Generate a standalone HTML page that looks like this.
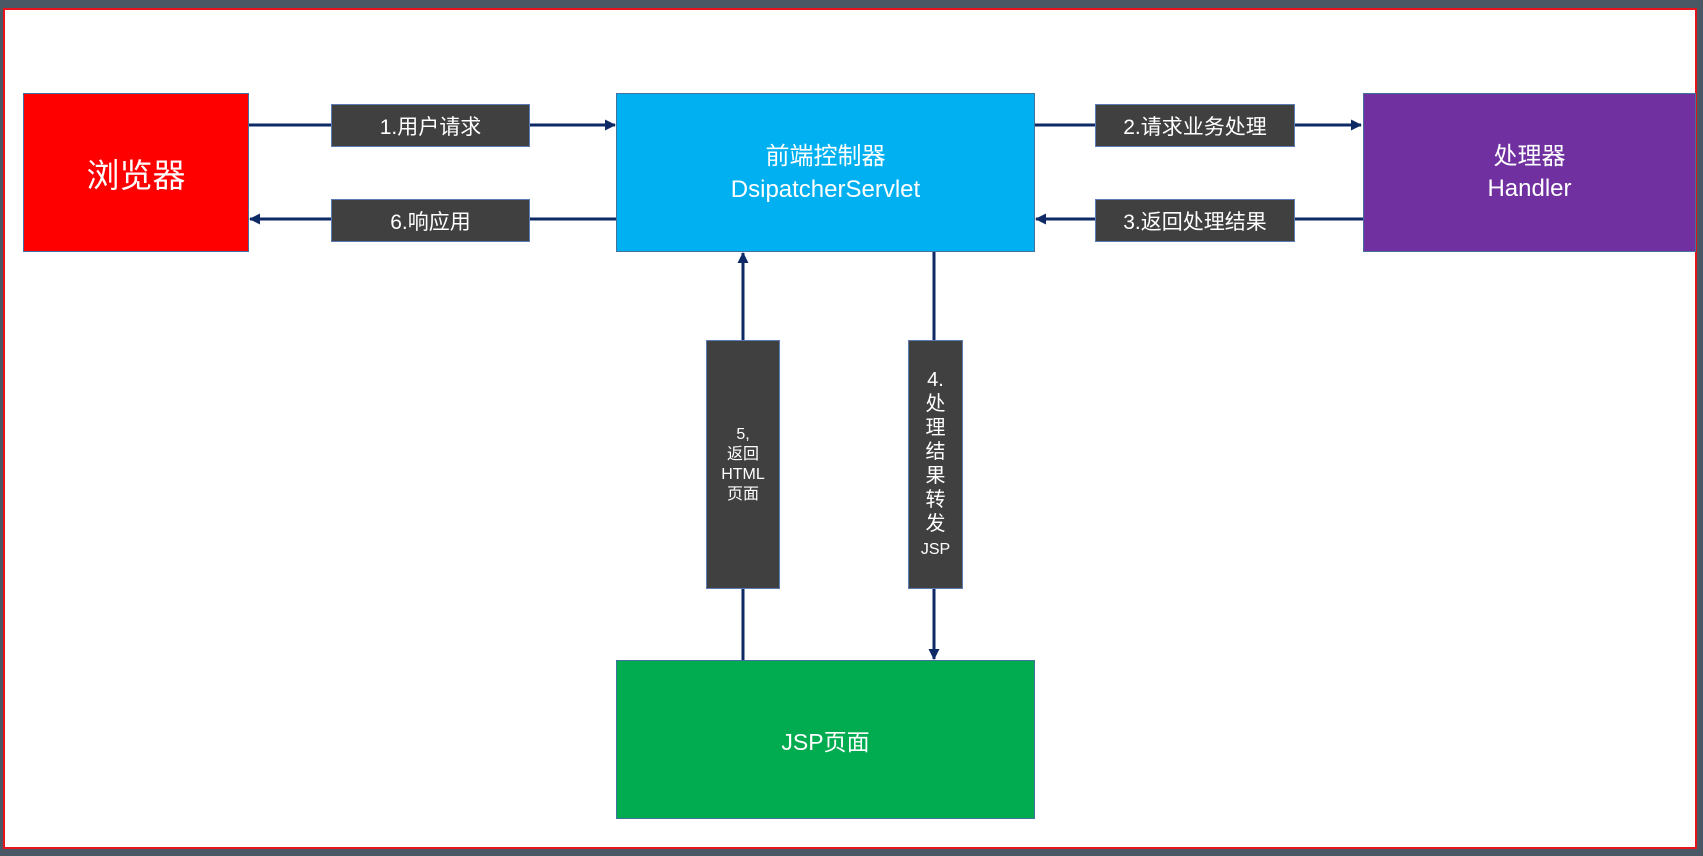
<!DOCTYPE html>
<html><head><meta charset="utf-8"><style>
body{margin:0;width:1703px;height:856px;background:#4a5865;position:relative;overflow:hidden;font-family:"Liberation Sans","Noto Sans CJK SC",sans-serif;}
.frame{position:absolute;left:3px;top:8px;width:1690px;height:837px;background:#fff;border:2px solid #e8141c;}
.b{position:absolute;box-sizing:border-box;border:1px solid #41719c;color:#fff;display:flex;align-items:center;justify-content:center;text-align:center;}
.l{position:absolute;box-sizing:border-box;background:#404040;border:1px solid #5b7bb5;color:#fff;display:flex;align-items:center;justify-content:center;text-align:center;font-size:21px;}
svg{position:absolute;left:0;top:0;}
</style></head><body>
<div class="frame"></div>
<svg width="1703" height="856">
<defs><marker id="a" markerWidth="11" markerHeight="11" refX="10" refY="5.5" orient="auto" markerUnits="userSpaceOnUse"><path d="M0,0L11,5.5L0,11z" fill="#0d2a66"/></marker></defs>
<g stroke="#0d2a66" stroke-width="3" fill="none">
<line x1="249" y1="125" x2="615" y2="125" marker-end="url(#a)"/>
<line x1="616" y1="219" x2="250" y2="219" marker-end="url(#a)"/>
<line x1="1035" y1="125" x2="1361" y2="125" marker-end="url(#a)"/>
<line x1="1363" y1="219" x2="1036" y2="219" marker-end="url(#a)"/>
<line x1="743" y1="660" x2="743" y2="253" marker-end="url(#a)"/>
<line x1="934" y1="252" x2="934" y2="659" marker-end="url(#a)"/>
</g></svg>
<div class="b" style="left:23px;top:93px;width:226px;height:159px;background:#ff0000;font-size:33px;">浏览器</div>
<div class="b" style="left:616px;top:93px;width:419px;height:159px;background:#00b0f0;font-size:24px;line-height:33px;">前端控制器<br>DsipatcherServlet</div>
<div class="b" style="left:1363px;top:93px;width:333px;height:159px;background:#7030a0;font-size:24px;line-height:32px;">处理器<br>Handler</div>
<div class="b" style="left:616px;top:660px;width:419px;height:159px;background:#00ac4f;font-size:23px;">JSP页面</div>
<div class="l" style="left:331px;top:104px;width:199px;height:43px;">1.用户请求</div>
<div class="l" style="left:331px;top:199px;width:199px;height:43px;">6.响应用</div>
<div class="l" style="left:1095px;top:104px;width:200px;height:43px;">2.请求业务处理</div>
<div class="l" style="left:1095px;top:199px;width:200px;height:43px;">3.返回处理结果</div>
<div class="l" style="left:706px;top:340px;width:74px;height:249px;font-size:16px;line-height:20px;">5,<br>返回<br>HTML<br>页面</div>
<div class="l" style="left:908px;top:340px;width:55px;height:249px;font-size:20px;line-height:24px;"><div>4.<br>处<br>理<br>结<br>果<br>转<br>发<br><span style="font-size:16px">JSP</span></div></div>
</body></html>
